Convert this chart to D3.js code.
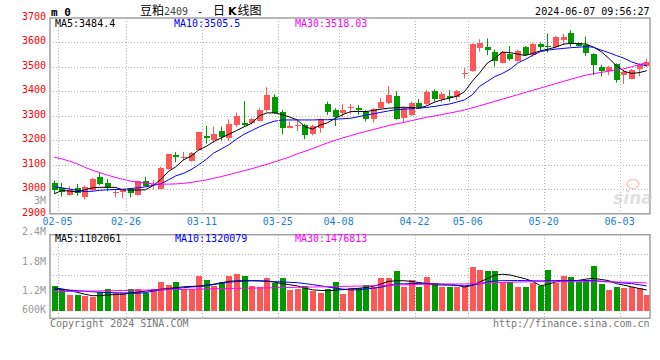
<!DOCTYPE html>
<html>
<head>
<meta charset="utf-8">
<script src="https://cdn.jsdelivr.net/npm/d3@7"></script>
<style>
  body { margin: 0; background: #fff; }
  svg { display: block; }
  text { font-family: "DejaVu Sans Mono", monospace; font-size: 10px; }
</style>
</head>
<body>
<div id="chart"></div>
<script>
// trading days shown on the chart
const dates = [
  "02-05","02-06","02-07","02-08","02-19","02-20","02-21","02-22","02-23","02-26","02-27","02-28","02-29",
  "03-01","03-04","03-05","03-06","03-07","03-08","03-11","03-12","03-13","03-14","03-15",
  "03-18","03-19","03-20","03-21","03-22","03-25","03-26","03-27","03-28","03-29",
  "04-01","04-02","04-03","04-08","04-09","04-10","04-11","04-12","04-15","04-16","04-17","04-18","04-19",
  "04-22","04-23","04-24","04-25","04-26","04-29","04-30",
  "05-06","05-07","05-08","05-09","05-10","05-13","05-14","05-15","05-16","05-17",
  "05-20","05-21","05-22","05-23","05-24","05-27","05-28","05-29","05-30","05-31",
  "06-03","06-04","06-05","06-06","06-07"
];
const tickDates = ["02-05","02-26","03-11","03-25","04-08","04-22","05-06","05-20","06-03"];

// daily candles
const opens  = [3024,3006,2978,3004,2970,2996,3051,3024,2985,2989, 3000,2978,3035,3016,3002,3081,3141,3124,3117,3159,
                3217,3199,3237,3207,3262,3272,3268,3281,3324,3377, 3316,3252,3258,3263,3224,3251,3348,3324,3313,3329,
                3331,3316,3284,3333,3354,3381,3290,3303,3351,3349, 3403,3368,3381,3378,3472,3484,3574,3582,3559,3517,
                3552,3525,3582,3548,3593,3585,3582,3609,3636,3599, 3589,3552,3499,3482,3510,3465,3453,3490,3504];
const highs  = [3035,3027,3013,3022,3016,3046,3068,3042,3000,3000, 3005,3035,3051,3038,3092,3145,3152,3152,3152,3235,
                3259,3256,3256,3286,3313,3360,3290,3331,3416,3388, 3324,3277,3281,3268,3264,3290,3358,3331,3348,3348,
                3344,3324,3331,3372,3421,3400,3337,3358,3368,3405, 3408,3398,3405,3405,3494,3596,3612,3616,3571,3566,
                3585,3571,3585,3599,3599,3636,3626,3634,3650,3601, 3623,3555,3508,3504,3514,3488,3491,3514,3531];
const lows   = [2981,2970,2974,2974,2959,2992,3017,2992,2967,2963, 2967,2975,3011,3000,3000,3080,3110,3117,3113,3157,
                3186,3191,3199,3198,3255,3256,3264,3277,3317,3307, 3224,3249,3237,3204,3220,3231,3303,3258,3294,3307,
                3303,3277,3271,3329,3348,3284,3273,3299,3329,3344, 3358,3354,3358,3365,3453,3480,3562,3548,3501,3514,
                3525,3521,3544,3541,3566,3558,3575,3589,3582,3582, 3544,3466,3461,3466,3435,3430,3450,3461,3499];
const closes = [2994,2989,2997,2984,3011,3042,3021,3005,2988,2997, 2985,3034,3016,3020,3088,3143,3132,3130,3149,3232,
                3210,3224,3214,3266,3299,3262,3286,3324,3385,3310, 3249,3260,3264,3224,3258,3286,3317,3294,3324,3335,
                3321,3286,3326,3358,3385,3286,3331,3351,3335,3399, 3371,3389,3371,3401,3476,3593,3596,3571,3521,3562,
                3530,3566,3548,3593,3582,3579,3623,3620,3593,3586, 3555,3508,3482,3499,3446,3478,3488,3508,3521];

// price moving averages as drawn
const ma5  = [2982,2995,2993,2989,2998,3006,3008,3008,3008,2998, 2997,2997,2998,3015,3040,3072,3092,3120,3135,3160,
              3175,3195,3210,3225,3240,3255,3270,3300,3312,3312, 3305,3295,3283,3255,3246,3262,3272,3290,3305,3317,
              3318,3317,3322,3327,3331,3333,3335,3334,3332,3340, 3355,3365,3372,3380,3398,3440,3475,3515,3535,3560,
              3558,3552,3546,3555,3565,3572,3580,3592,3596,3594, 3593,3580,3562,3535,3505,3482,3473,3476,3484];
const ma10 = [3010,3006,3001,2996,2991,2992,2996,2998,2999,3000, 3003,3006,3010,3016,3022,3038,3055,3065,3080,3100,
              3122,3148,3165,3182,3205,3225,3240,3255,3268,3278, 3283,3283,3283,3283,3283,3284,3284,3286,3288,3290,
              3296,3303,3308,3314,3320,3325,3327,3329,3331,3334, 3338,3343,3348,3356,3365,3385,3420,3440,3460,3473,
              3490,3515,3530,3547,3562,3568,3572,3575,3578,3580, 3582,3580,3568,3558,3546,3535,3520,3510,3505];
const ma30 = [3131,3124,3115,3104,3090,3078,3068,3058,3049,3041, 3034,3029,3025,3022,3021,3021,3022,3024,3028,3033,
              3038,3045,3052,3060,3068,3076,3084,3093,3102,3112, 3122,3132,3145,3155,3166,3178,3190,3200,3210,3219,
              3228,3236,3244,3252,3260,3267,3273,3280,3287,3294, 3299,3305,3311,3317,3324,3332,3341,3350,3359,3368,
              3377,3386,3395,3404,3413,3422,3431,3440,3449,3458, 3466,3472,3477,3482,3487,3492,3500,3509,3518];

// volume, thousand lots
const volumes = [1314,1154,835,835,782,745,1011,1154,957,926, 1154,1154,926,1154,1543,1367,1527,1154,1154,1862,
                 1633,1314,1527,1862,1952,1846,1314,1261,1739,1457, 1739,1101,1154,1314,1032,957,1154,1527,888,1223,
                 1223,1367,1277,1739,1739,2112,1261,1633,1261,1793, 1450,1261,1261,1261,1314,2324,2165,2112,2112,1473,
                 1527,1261,1261,1473,1314,2165,1473,1846,1793,1527, 1633,2378,1420,1101,1261,1207,1261,1207,835];
const volMa5  = [1220,1160,1080,980,880,800,800,835,860,880, 930,990,1040,1090,1140,1180,1230,1270,1290,1310,
                 1360,1410,1480,1560,1590,1595,1596,1590,1575,1520, 1440,1380,1320,1200,1110,1080,1064,1090,1120,1155,
                 1190,1230,1300,1420,1560,1590,1596,1560,1500,1440, 1380,1367,1367,1360,1260,1350,1530,1700,1890,1940,
                 1900,1800,1700,1560,1330,1400,1530,1570,1590,1610, 1680,1720,1660,1600,1440,1360,1270,1180,1102];
const volMa10 = [1135,1115,1095,1070,1040,1005,985,965,955,945, 935,928,960,1040,1100,1140,1180,1225,1260,1290,
                 1320,1390,1460,1520,1550,1575,1596,1580,1565,1545, 1530,1510,1490,1440,1390,1330,1260,1200,1150,1110,
                 1105,1150,1200,1250,1340,1420,1430,1440,1450,1455, 1440,1410,1380,1340,1320,1360,1430,1520,1590,1596,
                 1600,1605,1600,1590,1585,1590,1600,1605,1600,1595, 1596,1595,1570,1545,1510,1470,1440,1380,1320];
const volMa30 = [1010,1015,1022,1030,1037,1045,1052,1060,1068,1075, 1083,1090,1098,1105,1112,1120,1127,1133,1138,1146,
                 1155,1164,1173,1182,1191,1196,1202,1208,1214,1221, 1228,1236,1245,1253,1261,1269,1277,1285,1292,1300,
                 1307,1314,1327,1340,1353,1367,1378,1389,1400,1410, 1420,1420,1420,1420,1420,1437,1455,1472,1489,1500,
                 1512,1523,1535,1543,1543,1543,1543,1543,1543,1543, 1543,1543,1543,1535,1527,1518,1510,1495,1477];

const priceTicks = [3700,3600,3500,3400,3300,3200,3100,3000,2900];
const volTicks = [2400,1800,1200,600];
const volTickText = ["2.4M","1.8M","1.2M","600K"];

const upColor = "#ff5757", downColor = "#009a00";
const gridColor = "#b4b4b4", frameColor = "#a0a0a0";

const svg = d3.select("#chart").append("svg")
    .attr("width", 660)
    .attr("height", 360);

// scales
const x = d3.scaleBand()
    .domain(dates)
    .range([50, 650])
    .paddingInner(0.25)
    .paddingOuter(0.125);
const step = x.step();
const cx = d => x(d) + x.bandwidth() / 2;

const y = d3.scaleLinear().domain([2900, 3700]).range([213.8, 17.8]);
const yv = d3.scaleLinear().domain([0, 4043]).range([310.7, 234.7]);
// where sina puts the volume labels (bottom one pushed up above the frame edge)
const yvLabel = d3.scaleLinear().domain([1200, 2400]).range([294, 235]);

const idx = d3.range(dates.length);
const isUp = i => closes[i] >= opens[i];

// ---------- price panel ----------
const priceG = svg.append("g");

// horizontal grid
priceG.append("g").selectAll("line")
    .data(priceTicks.slice(1, -1))
    .join("line")
    .attr("x1", 50).attr("x2", 650)
    .attr("y1", d => Math.round(y(d)) + 0.5).attr("y2", d => Math.round(y(d)) + 0.5)
    .attr("stroke", gridColor).attr("stroke-dasharray", "1,2");

// vertical grid (both panels)
const vx = d => Math.round(cx(d) + step / 2) + 0.5;
svg.append("g").selectAll("line")
    .data(tickDates)
    .join("line")
    .attr("x1", vx).attr("x2", vx)
    .attr("y1", 18).attr("y2", 213)
    .attr("stroke", gridColor).attr("stroke-dasharray", "1,2");
svg.append("g").selectAll("line")
    .data(tickDates)
    .join("line")
    .attr("x1", vx).attr("x2", vx)
    .attr("y1", 235).attr("y2", 318)
    .attr("stroke", gridColor).attr("stroke-dasharray", "1,2");

// volume horizontal grid
svg.append("g").selectAll("line")
    .data([3000, 1920])
    .join("line")
    .attr("x1", 50).attr("x2", 650)
    .attr("y1", d => Math.round(yv(d)) + 0.5).attr("y2", d => Math.round(yv(d)) + 0.5)
    .attr("stroke", gridColor).attr("stroke-dasharray", "1,2");

// sina watermark
const wm = svg.append("g").attr("opacity", 0.55);
wm.append("ellipse").attr("cx", 633).attr("cy", 184).attr("rx", 6).attr("ry", 4.5)
    .attr("fill", "none").attr("stroke", "#f2a0a0").attr("stroke-width", 1.5);
wm.append("text").attr("x", 633).attr("y", 204).attr("text-anchor", "middle")
    .style("font-family", "DejaVu Sans").style("font-size", "17px")
    .style("font-style", "italic").style("font-weight", "bold")
    .attr("fill", "#c8c8c8").text("sina");

// candles
priceG.append("g").selectAll("line")
    .data(idx)
    .join("line")
    .attr("x1", i => Math.round(cx(dates[i])) + 0.5)
    .attr("x2", i => Math.round(cx(dates[i])) + 0.5)
    .attr("y1", i => y(highs[i]))
    .attr("y2", i => y(lows[i]))
    .attr("stroke", i => isUp(i) ? upColor : downColor);

priceG.append("g").selectAll("rect")
    .data(idx)
    .join("rect")
    .attr("x", i => Math.round(cx(dates[i])) - 2)
    .attr("width", 6)
    .attr("y", i => Math.round(y(Math.max(opens[i], closes[i]))))
    .attr("height", i => Math.max(1, Math.round(Math.abs(y(opens[i]) - y(closes[i])))))
    .attr("fill", i => isUp(i) ? upColor : downColor)
    .attr("shape-rendering", "crispEdges");

// moving averages
const priceLine = arr => d3.line().x(i => cx(dates[i]) + 0.5).y(i => y(arr[i]))(idx);
[[ma5, "#000"], [ma10, "#0000ff"], [ma30, "#ff00ff"]].forEach(([arr, c]) => {
    priceG.append("path").attr("d", priceLine(arr))
        .attr("fill", "none").attr("stroke", c).attr("stroke-width", 1);
});

// frame
priceG.append("rect").attr("x", 50).attr("y", 18).attr("width", 600).attr("height", 195.8)
    .attr("fill", "none").attr("stroke", frameColor).attr("stroke-width", 1.5);

// price labels
priceG.append("g").selectAll("text")
    .data(priceTicks)
    .join("text")
    .attr("x", 46).attr("y", d => y(d) + 1.7)
    .attr("text-anchor", "end")
    .attr("fill", "#f00")
    .text(d => d);
priceG.append("text").attr("x", 46).attr("y", 204).attr("text-anchor", "end")
    .attr("fill", "#999").text("3M");

// date labels
svg.append("g").selectAll("text")
    .data(tickDates)
    .join("text")
    .attr("x", d => cx(d) + step / 2)
    .attr("y", 225)
    .attr("text-anchor", "middle")
    .attr("fill", "#1a7fd0")
    .text(d => d);

// MA legend
priceG.append("text").attr("x", 55).attr("y", 27.3).attr("fill", "#000").text("MA5:3484.4");
priceG.append("text").attr("x", 174).attr("y", 27.3).attr("fill", "#0000ff").text("MA10:3505.5");
priceG.append("text").attr("x", 295).attr("y", 27.3).attr("fill", "#ff00ff").text("MA30:3518.03");

// ---------- volume panel ----------
const volG = svg.append("g");

volG.append("g").selectAll("rect")
    .data(idx)
    .join("rect")
    .attr("x", i => Math.round(cx(dates[i])) - 2)
    .attr("width", 6)
    .attr("y", i => Math.round(yv(volumes[i])))
    .attr("height", i => Math.round(yv(0)) - Math.round(yv(volumes[i])))
    .attr("fill", i => isUp(i) ? upColor : downColor)
    .attr("shape-rendering", "crispEdges");

const volLine = arr => d3.line().x(i => cx(dates[i]) + 0.5).y(i => yv(arr[i]))(idx);
[[volMa5, "#000"], [volMa10, "#0000ff"], [volMa30, "#ff00ff"]].forEach(([arr, c]) => {
    volG.append("path").attr("d", volLine(arr))
        .attr("fill", "none").attr("stroke", c).attr("stroke-width", 1);
});

volG.append("rect").attr("x", 50).attr("y", 234.7).attr("width", 600).attr("height", 83.6)
    .attr("fill", "none").attr("stroke", frameColor).attr("stroke-width", 1.5);

volG.append("g").selectAll("text")
    .data(volTicks)
    .join("text")
    .attr("x", 46)
    .attr("y", d => Math.min(yvLabel(d), 313.3))
    .attr("text-anchor", "end")
    .attr("fill", "#999")
    .text((d, i) => volTickText[i]);

volG.append("text").attr("x", 55).attr("y", 241.7).attr("fill", "#000").text("MA5:1102061");
volG.append("text").attr("x", 175).attr("y", 241.7).attr("fill", "#0000ff").text("MA10:1320079");
volG.append("text").attr("x", 295).attr("y", 241.7).attr("fill", "#ff00ff").text("MA30:1476813");

// ---------- header / footer ----------
svg.append("text").attr("x", 51).attr("y", 15.5)
    .style("font-weight", "bold").style("font-size", "11px").text("m 0");

const title = svg.append("text").attr("y", 15).attr("fill", "#000");
title.append("tspan").attr("x", 140)
    .style("font-family", "'Noto Sans CJK SC'").style("font-size", "12px").text("豆粕");
title.append("tspan").attr("fill", "#444").text("2409");
title.append("tspan").attr("x", 197).text("-");
title.append("tspan").attr("x", 213)
    .style("font-family", "'Noto Sans CJK SC'").style("font-size", "12px").text("日");
title.append("tspan").attr("dx", 3)
    .style("font-family", "'DejaVu Sans'").style("font-weight", "bold").style("font-size", "11px").text("K");
title.append("tspan").attr("dx", 1)
    .style("font-family", "'Noto Sans CJK SC'").style("font-size", "12px").text("线图");

svg.append("text").attr("x", 649.5).attr("y", 15).attr("text-anchor", "end")
    .text("2024-06-07 09:56:27");

svg.append("text").attr("x", 50).attr("y", 327).attr("fill", "#777")
    .text("Copyright 2024 SINA.COM");
svg.append("text").attr("x", 649.5).attr("y", 327).attr("text-anchor", "end").attr("fill", "#777")
    .text("http://finance.sina.com.cn");
</script>
</body>
</html>
